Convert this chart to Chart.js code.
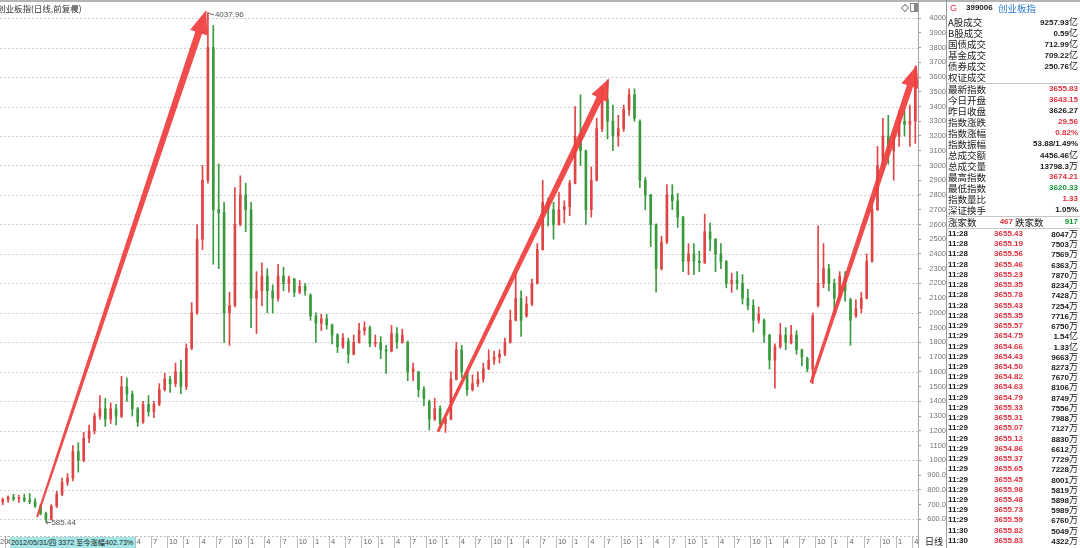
<!DOCTYPE html>
<html>
<head>
<meta charset="utf-8">
<title>创业板指</title>
<script src="https://cdn.jsdelivr.net/npm/chart.js@4.4.1/dist/chart.umd.min.js"></script>
<style>
html,body{margin:0;padding:0;background:#fff;}
body{position:relative;width:1080px;height:548px;overflow:hidden;font-family:"Liberation Sans","Noto Sans CJK SC",sans-serif;}
#chart{position:absolute;left:0;top:0;}
.t{position:absolute;white-space:nowrap;height:12px;line-height:12px;}
.cjk{font-family:"Noto Sans CJK SC",sans-serif;font-size:9.5px;}
.num{font-family:"Liberation Sans",sans-serif;font-weight:bold;font-size:8px;}
.r{color:#e4303f}.g{color:#14993a}.k{color:#1a1a1a}.b{color:#2a78d4}
</style>
</head>
<body>
<canvas id="chart" width="946" height="548"></canvas>
<div id="ui"></div>
<script>
// ---------------- data ----------------
const months = [
 "2012-03","2012-04","2012-05","2012-06","2012-07","2012-08","2012-09","2012-10","2012-11","2012-12",
 "2013-01","2013-02","2013-03","2013-04","2013-05","2013-06","2013-07","2013-08","2013-09","2013-10","2013-11","2013-12",
 "2014-01","2014-02","2014-03","2014-04","2014-05","2014-06","2014-07","2014-08","2014-09","2014-10","2014-11","2014-12",
 "2015-01","2015-02","2015-03","2015-04","2015-05","2015-06","2015-07","2015-08","2015-09","2015-10","2015-11","2015-12",
 "2016-01","2016-02","2016-03","2016-04","2016-05","2016-06","2016-07","2016-08","2016-09","2016-10","2016-11","2016-12",
 "2017-01","2017-02","2017-03","2017-04","2017-05","2017-06","2017-07","2017-08","2017-09","2017-10","2017-11","2017-12",
 "2018-01","2018-02","2018-03","2018-04","2018-05","2018-06","2018-07","2018-08","2018-09","2018-10","2018-11","2018-12",
 "2019-01","2019-02","2019-03","2019-04","2019-05","2019-06","2019-07","2019-08","2019-09","2019-10","2019-11","2019-12",
 "2020-01","2020-02","2020-03","2020-04","2020-05","2020-06","2020-07","2020-08","2020-09","2020-10","2020-11","2020-12",
 "2021-01","2021-02","2021-03","2021-04","2021-05","2021-06","2021-07","2021-08","2021-09","2021-10","2021-11","2021-12",
 "2022-01","2022-02","2022-03","2022-04","2022-05","2022-06","2022-07","2022-08","2022-09","2022-10","2022-11","2022-12",
 "2023-01","2023-02","2023-03","2023-04","2023-05","2023-06","2023-07","2023-08","2023-09","2023-10","2023-11","2023-12",
 "2024-01","2024-02","2024-03","2024-04","2024-05","2024-06","2024-07","2024-08","2024-09","2024-10","2024-11","2024-12",
 "2025-01","2025-02","2025-03","2025-04","2025-05","2025-06","2025-07","2025-08","2025-09","2025-10","2025-11","2025-12",
 "2026-01","2026-02","2026-03","2026-04"
];
const openP = [
 720,735,750,740,745,730,720,690,640,600,
 690,770,850,880,1060,1000,1150,1200,1300,1350,
 1280,1350,1300,1500,1450,1350,1260,1380,1330,1380,
 1480,1550,1520,1600,1500,1760,2000,2500,2900,3800,
 2700,2680,2000,2050,2600,2800,2700,2100,2150,2250,
 2150,2100,2250,2200,2230,2140,2180,2120,1980,1930,
 1960,1920,1850,1770,1810,1720,1800,1880,1900,1790,
 1800,1750,1740,1860,1800,1800,1600,1600,1480,1400,
 1280,1350,1250,1280,1550,1750,1600,1480,1520,1550,
 1620,1680,1700,1720,1800,1950,2100,1980,2060,2200,
 2430,2750,2700,2600,2700,2720,2880,3200,3100,2700,
 2900,3250,3450,3300,3200,3250,3380,3480,3300,2900,
 2800,2600,2300,2480,2800,2760,2650,2350,2400,2350,
 2340,2550,2500,2400,2350,2200,2220,2200,2100,2050,
 1950,1950,1850,1680,1770,1850,1800,1850,1750,1690,
 1620,2050,2200,2300,2200,2100,2250,2090,1980,2030,
 2100,2350,2700,3000,3200,3100,3200,3300,3280,3300
];
const highP = [
 745,760,770,765,770,775,740,700,650,700,
 790,880,910,1100,1120,1190,1240,1320,1440,1420,
 1390,1380,1570,1560,1470,1360,1400,1440,1400,1520,
 1590,1570,1660,1680,1790,2070,2600,3000,4037.96,3950,
 3010,2750,2140,2850,2930,2880,2750,2280,2340,2300,
 2190,2330,2310,2250,2235,2220,2200,2130,2000,1990,
 1990,1925,1860,1860,1830,1850,1930,1940,1910,1850,
 1840,1780,1915,1900,1890,1810,1660,1605,1500,1410,
 1420,1370,1300,1600,1800,1780,1605,1580,1600,1660,
 1750,1740,1750,1830,2020,2260,2150,2110,2230,2470,
 2900,2780,2750,2820,2760,2900,3400,3480,3105,2990,
 3320,3530,3580,3410,3340,3410,3520,3520,3310,2920,
 2805,2605,2520,2870,2870,2810,2655,2470,2470,2420,
 2670,2610,2505,2470,2355,2270,2280,2260,2160,2090,
 2040,1960,1855,1790,1930,1900,1915,1880,1755,1700,
 2000,2590,2470,2330,2230,2280,2280,2100,2090,2140,
 2400,2750,3130,3320,3340,3220,3370,3370,3410,3674.21
];
const lowP = [
 700,715,725,715,720,705,680,630,585.44,595,
 680,760,830,860,920,990,1120,1180,1280,1230,
 1250,1240,1290,1400,1300,1230,1250,1300,1290,1370,
 1470,1460,1500,1450,1480,1750,1990,2430,2880,2330,
 2300,1800,1780,2040,2590,2550,1900,1860,2050,2000,
 2000,2080,2150,2140,2110,2130,2120,1950,1800,1880,
 1890,1790,1730,1760,1660,1715,1795,1850,1770,1770,
 1690,1590,1735,1760,1795,1540,1540,1430,1370,1207,
 1270,1220,1190,1275,1545,1560,1440,1470,1500,1530,
 1615,1650,1660,1710,1795,1945,1840,1970,2050,2195,
 2425,2590,2500,2595,2610,2660,2875,3000,2600,2650,
 2895,3230,3180,3100,3130,3230,3340,3300,2850,2700,
 2450,2140,2290,2470,2700,2580,2280,2260,2260,2280,
 2335,2420,2280,2300,2170,2140,2160,2060,2020,1870,
 1930,1800,1620,1490,1760,1750,1790,1720,1640,1600,
 1520,2040,2170,2150,1980,2095,2080,1780,1970,2000,
 2095,2345,2695,2990,3010,2900,3130,3200,3130,3150
];
const closeP = [
 735,750,740,745,730,720,690,640,600,690,
 770,850,880,1060,1000,1150,1200,1300,1350,1280,
 1350,1300,1500,1450,1350,1260,1380,1330,1380,1480,
 1550,1520,1600,1500,1760,2000,2500,2900,3800,2700,
 2680,2000,2050,2600,2800,2700,2100,2150,2250,2150,
 2100,2250,2200,2230,2140,2180,2150,1980,1930,1960,
 1920,1850,1770,1830,1720,1800,1880,1900,1790,1800,
 1750,1740,1860,1800,1850,1600,1620,1480,1420,1280,
 1350,1250,1280,1550,1750,1600,1480,1520,1550,1620,
 1680,1700,1720,1800,1950,2100,1950,2060,2200,2430,
 2750,2700,2600,2700,2720,2880,3200,3100,2700,2900,
 3250,3450,3300,3200,3250,3380,3480,3320,2900,2800,
 2600,2300,2480,2800,2760,2650,2350,2400,2350,2340,
 2550,2500,2400,2350,2200,2220,2200,2100,2050,1950,
 1990,1850,1680,1770,1850,1800,1850,1750,1700,1620,
 1980,2200,2300,2200,2100,2250,2150,1950,2030,2100,
 2350,2700,3000,3200,3100,3200,3300,3280,3300,3655.83
];
const quarterLabels = ["1","4","7","10"];
const yTickValues = [4000,3900,3800,3700,3600,3500,3400,3300,3200,3100,3000,2900,2800,2700,2600,2500,2400,2300,2200,2100,2000,1900,1800,1700,1600,1500,1400,1300,1200,1100,1000,900,800,700,600];
const gridValues = [4000,3800,3600,3400,3200,3000,2800,2600,2400,2200,2000,1800,1600,1400,1200,1000,800,600];
const arrowFrom = [[6.35,615],[80.6,1195],[149.7,1526]];
const arrowTo   = [[37.7,4055],[112.3,3590],[169.3,3680]];
const peakIdx = 38, peakVal = 4037.96, lowIdx = 8, lowVal = 585.44;

// right panel
const statLabels = ["A股成交","B股成交","国债成交","基金成交","债券成交","权证成交"];
const statValues = ["9257.93亿","0.59亿","712.99亿","709.22亿","250.76亿",""];
const quoteLabels = ["最新指数","今日开盘","昨日收盘","指数涨跌","指数涨幅","指数振幅","总成交额","总成交量","最高指数","最低指数","指数量比","深证换手"];
const quoteValues = ["3655.83","3643.15","3626.27","29.56","0.82%","53.88/1.49%","4456.46亿","13798.3万","3674.21","3620.33","1.33","1.05%"];
const quoteColors = ["r","r","k","r","r","k","k","k","r","g","r","k"];
const tickTimes = ["11:28","11:28","11:28","11:28","11:28","11:28","11:28","11:28","11:28",
 "11:29","11:29","11:29","11:29","11:29","11:29","11:29","11:29","11:29","11:29","11:29","11:29","11:29","11:29","11:29","11:29","11:29","11:29","11:29","11:29",
 "11:30","11:30"];
const tickPrices = ["3655.43","3655.19","3655.56","3655.46","3655.23","3655.35","3655.78","3655.43","3655.35",
 "3655.57","3654.75","3654.66","3654.43","3654.50","3654.82","3654.63","3654.79","3655.33","3655.31","3655.07","3655.12","3654.86","3655.37","3655.65","3655.45","3655.98","3655.48","3655.73","3655.59",
 "3655.82","3655.83"];
const tickVols = ["8047万","7503万","7569万","6363万","7870万","8234万","7428万","7254万","7716万",
 "6750万","1.54亿","1.33亿","9663万","8273万","7670万","8106万","8749万","7556万","7988万","7127万","8830万","6612万","7729万","7228万","8001万","5819万","5898万","5989万","6760万",
 "5049万","4322万"];

// ---------------- chart ----------------
const UP = '#e04444', DOWN = '#3a9a3e';
const colors = closeP.map((c,i)=> c >= openP[i] ? UP : DOWN);
const monthNum = i => String(parseInt(months[i].slice(5),10));

function drawArrow(ctx,x1,y1,x2,y2,w0,w1,headLen,headW){
  const dx=x2-x1, dy=y2-y1, L=Math.hypot(dx,dy), ux=dx/L, uy=dy/L, nx=-uy, ny=ux;
  const bx=x2-ux*headLen, by=y2-uy*headLen;
  ctx.beginPath();
  ctx.moveTo(x1+nx*w0/2,y1+ny*w0/2);
  ctx.lineTo(bx+nx*w1/2,by+ny*w1/2);
  ctx.lineTo(bx+nx*headW/2,by+ny*headW/2);
  ctx.lineTo(x2,y2);
  ctx.lineTo(bx-nx*headW/2,by-ny*headW/2);
  ctx.lineTo(bx-nx*w1/2,by-ny*w1/2);
  ctx.lineTo(x1-nx*w0/2,y1-ny*w0/2);
  ctx.closePath(); ctx.fill();
}

const overlay = {
  id:'overlay',
  beforeDatasetsDraw(chart){
    const {ctx, chartArea:a, scales:{y}} = chart;
    ctx.save();
    ctx.strokeStyle='#cfcfcf'; ctx.lineWidth=1; ctx.setLineDash([2,2]);
    gridValues.forEach(v=>{
      const py=Math.round(y.getPixelForValue(v))+0.5;
      ctx.beginPath(); ctx.moveTo(a.left,py); ctx.lineTo(a.right,py); ctx.stroke();
    });
    ctx.strokeStyle='#bdbdbd';
    ctx.beginPath(); ctx.moveTo(a.left,a.bottom+0.5); ctx.lineTo(a.right,a.bottom+0.5); ctx.stroke();
    ctx.restore();
  },
  afterDatasetsDraw(chart){
    const {ctx, scales:{x,y}} = chart;
    ctx.save();
    ctx.fillStyle='rgba(240,62,62,0.93)';
    const spec=[[2,7,24,18],[3,6.5,22,18],[3,6.5,22,18]];
    arrowFrom.forEach((f,k)=>{
      const t=arrowTo[k], s=spec[k];
      drawArrow(ctx,x.getPixelForValue(f[0]),y.getPixelForValue(f[1]),x.getPixelForValue(t[0]),y.getPixelForValue(t[1]),s[0],s[1],s[2],s[3]);
    });
    ctx.fillStyle='#555'; ctx.strokeStyle='#666'; ctx.lineWidth=1;
    ctx.font='8px "Liberation Sans", sans-serif'; ctx.textBaseline='middle'; ctx.textAlign='left';
    let px=x.getPixelForValue(peakIdx), py=y.getPixelForValue(peakVal);
    ctx.beginPath(); ctx.moveTo(px+1,py+1); ctx.lineTo(px+6,py+2.5); ctx.stroke();
    ctx.fillText(peakVal.toFixed(2), px+7, py+2.5);
    px=x.getPixelForValue(lowIdx); py=y.getPixelForValue(lowVal);
    ctx.beginPath(); ctx.moveTo(px,py+1); ctx.lineTo(px+5,py+1); ctx.moveTo(px,py+1); ctx.lineTo(px+2,py-1); ctx.moveTo(px,py+1); ctx.lineTo(px+2,py+3); ctx.stroke();
    ctx.fillText(lowVal.toFixed(2), px+5.5, py+1);
    ctx.restore();
  }
};

new Chart(document.getElementById('chart'), {
  type:'bar',
  data:{
    labels: months,
    datasets:[
      {data: months.map((m,i)=>[lowP[i],highP[i]]), backgroundColor: colors, barThickness:1, grouped:false, borderWidth:0, borderSkipped:false},
      {data: months.map((m,i)=>[Math.min(openP[i],closeP[i]),Math.max(openP[i],closeP[i])]), backgroundColor: colors, barThickness:2, grouped:false, borderWidth:0, borderSkipped:false}
    ]
  },
  options:{
    responsive:false, animation:false,
    layout:{padding:{top:3,left:0,right:0,bottom:0}},
    plugins:{legend:{display:false}, tooltip:{enabled:false}},
    scales:{
      x:{
        type:'category', offset:true,
        grid:{offset:true, drawOnChartArea:false, drawTicks:true, tickLength:12, lineWidth:1,
          color: c => (c.index!==undefined && quarterLabels.includes(monthNum(c.index))) ? '#bdbdbd' : 'rgba(0,0,0,0)'},
        border:{display:false},
        ticks:{autoSkip:false, maxRotation:0, minRotation:0, align:'start', labelOffset:-1, padding:-11,
          color:'#666', font:{family:'"Liberation Sans", sans-serif', size:7.5},
          callback: (v,i) => { const m = monthNum(i); return (i>0 && quarterLabels.includes(m)) ? m : ''; }},
        afterFit: s => { s.height = 12; s.paddingLeft = 0; s.paddingRight = 0; }
      },
      y:{
        position:'right', min:487, max:4102,
        afterBuildTicks: s => { s.ticks = yTickValues.map(v=>({value:v})); },
        grid:{drawOnChartArea:false, drawTicks:true, tickLength:3, color:'#9a9a9a'},
        border:{display:false},
        ticks:{autoSkip:false, crossAlign:'far', padding:2, color:'#777',
          font:{family:'"Liberation Sans", sans-serif', size:7.5},
          callback: v => v >= 1000 ? String(v) : v.toFixed(1)},
        afterFit: s => { s.width = 28; s.paddingTop = 0; s.paddingBottom = 0; }
      }
    }
  },
  plugins:[overlay]
});

// ---------------- HTML overlays ----------------
const ui = document.getElementById('ui');
function el(tag, css, html){ const d=document.createElement(tag); d.style.cssText=css; if(html!==undefined) d.innerHTML=html; ui.appendChild(d); return d; }
function txt(html, cls, cy, left, right, extra){
  const d=document.createElement('div'); d.className='t '+cls; d.innerHTML=html;
  d.style.top=(cy-6)+'px';
  if(left!=null) d.style.left=left+'px'; else d.style.right=(1080-right)+'px';
  if(extra) d.style.cssText += extra;
  ui.appendChild(d); return d;
}
function unitSplit(s){
  const m=s.match(/^(.*?)([亿万])$/);
  return m ? m[1]+'<span style="font-family:\'Noto Sans CJK SC\',sans-serif;font-weight:normal;font-size:9px">'+m[2]+'</span>' : s;
}
el('div','position:absolute;left:0;top:0;width:1080px;height:2px;background:#b4b4b4;');
el('div','position:absolute;left:918px;top:0;width:1px;height:548px;background:#a8a8a8;');
el('div','position:absolute;left:946px;top:0;width:1px;height:548px;background:#9a9a9a;');
[83,216,228].forEach(yy=>el('div','position:absolute;left:947px;top:'+yy+'px;width:133px;height:1px;background:#c8c8c8;'));
el('div','position:absolute;left:-3px;top:2px;font-family:"Noto Sans CJK SC",sans-serif;font-size:8.5px;line-height:12px;color:#333;white-space:nowrap;','创业板指(日线,前复权)');
el('div','position:absolute;left:72px;top:5px;width:6px;height:6px;border-radius:50%;background:#777;');
el('div','position:absolute;left:902px;top:5px;width:4px;height:4px;border:1px solid #888;transform:rotate(45deg);');
el('div','position:absolute;left:910px;top:3px;width:6px;height:7px;border:1px solid #888;background:linear-gradient(90deg,#fff 50%,#888 50%);');
txt('201','', 541.5, 0, null, 'font-size:7.5px;color:#666;');
el('div','position:absolute;left:10px;top:537px;height:11px;line-height:11px;padding:0 2px 0 1px;background:#a3e6e6;color:#222;font-size:7.2px;white-space:nowrap;font-family:"Liberation Sans","Noto Sans CJK SC",sans-serif;','2012/05/31/四 3372 至今涨幅402.73%');
txt('日线','cjk k', 541.5, 925, null, 'font-size:9px;');
txt('G','r', 7.5, 950, null, 'font-size:9px;');
txt('399006','num k', 7.5, 966, null, 'font-size:8px;');
txt('创业板指','cjk b', 7.5, 998, null);
statLabels.forEach((s,i)=>{ const cy=21.5+i*11.05; txt(s,'cjk k',cy,948,null); if(statValues[i]) txt(unitSplit(statValues[i]),'num k',cy,null,1078); });
quoteLabels.forEach((s,i)=>{ const cy=89+i*11; txt(s,'cjk k',cy,948,null); txt(unitSplit(quoteValues[i]),'num '+quoteColors[i],cy,null,1078); });
txt('涨家数','cjk k',222,948,null); txt('467','num r',222,null,1013);
txt('跌家数','cjk k',222,1015,null); txt('917','num g',222,null,1078);
tickTimes.forEach((t,i)=>{ const cy=234+i*10.23;
  txt(t,'num k',cy,948,null); txt(tickPrices[i],'num r',cy,null,1023); txt(unitSplit(tickVols[i]),'num k',cy,null,1078); });
</script>
</body>
</html>
